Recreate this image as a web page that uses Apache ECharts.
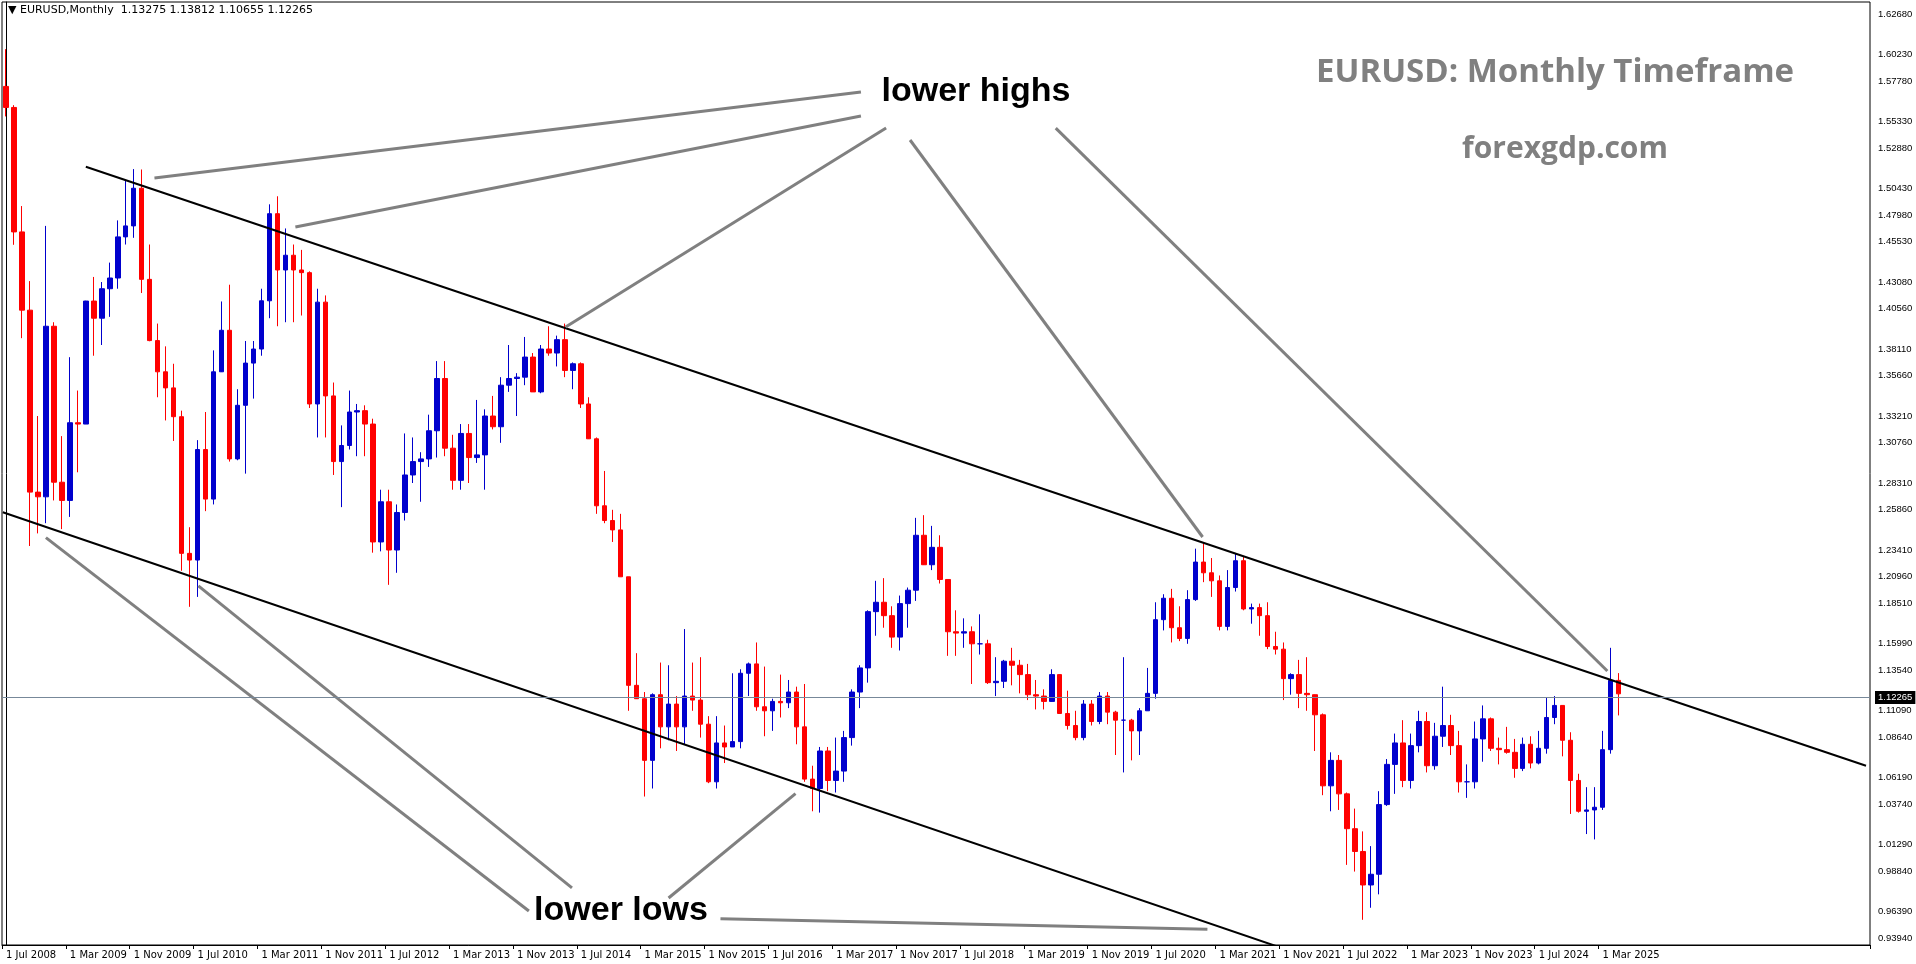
<!DOCTYPE html>
<html><head><meta charset="utf-8">
<script src="https://cdn.jsdelivr.net/npm/echarts@6/dist/echarts.min.js"></script>
<style>html,body{margin:0;padding:0;background:#fff}#c{width:1916px;height:964px}</style>
</head><body><div id="c"></div>
<script>
// OHLC: first open, then monthly [high, low, close] from Jul 2008 to May 2025
const firstOpen = 1.5760;
const y2008 = [[1.6038,1.5536,1.5603],[1.5620,1.4578,1.4674],[1.4867,1.3881,1.4090],[1.4307,1.2330,1.2732],[1.3300,1.2424,1.2697],[1.4719,1.2500,1.3970]];
const y2009 = [[1.4000,1.2670,1.2806],[1.3150,1.2456,1.2670],[1.3739,1.2547,1.3250],[1.3490,1.2880,1.3240],[1.4160,1.3250,1.4158],[1.4338,1.3750,1.4030],[1.4300,1.3830,1.4250],[1.4445,1.4040,1.4330],[1.4760,1.4250,1.4637],[1.5062,1.4580,1.4719],[1.5143,1.4630,1.5000],[1.5140,1.4218,1.4320]];
const y2010 = [[1.4580,1.3858,1.3863],[1.3990,1.3440,1.3630],[1.3820,1.3267,1.3510],[1.3690,1.3114,1.3295],[1.3340,1.2145,1.2275],[1.2470,1.1876,1.2225],[1.3120,1.1950,1.3050],[1.3330,1.2590,1.2680],[1.3790,1.2640,1.3630],[1.4155,1.3700,1.3940],[1.4280,1.2960,1.2980],[1.3500,1.2970,1.3380]];
const y2011 = [[1.3860,1.2870,1.3695],[1.3860,1.3430,1.3800],[1.4250,1.3750,1.4160],[1.4880,1.4030,1.4810],[1.4940,1.3970,1.4390],[1.4700,1.4000,1.4500],[1.4580,1.4000,1.4390],[1.4540,1.4050,1.4370],[1.4380,1.3360,1.3390],[1.4250,1.3140,1.4150],[1.4200,1.3140,1.3450],[1.3550,1.2860,1.2960]];
const y2012 = [[1.3230,1.2620,1.3080],[1.3490,1.3050,1.3330],[1.3390,1.3000,1.3340],[1.3380,1.3000,1.3240],[1.3280,1.2280,1.2360],[1.2750,1.2290,1.2660],[1.2750,1.2040,1.2300],[1.2640,1.2130,1.2580],[1.3170,1.2520,1.2860],[1.3140,1.2800,1.2960],[1.3030,1.2660,1.2980],[1.3310,1.2920,1.3190]];
const y2013 = [[1.3710,1.2990,1.3580],[1.3710,1.3000,1.3060],[1.3160,1.2750,1.2820],[1.3240,1.2750,1.3170],[1.3240,1.2800,1.2990],[1.3420,1.2950,1.3010],[1.3350,1.2750,1.3300],[1.3450,1.3200,1.3220],[1.3590,1.3100,1.3530],[1.3830,1.3480,1.3580],[1.3620,1.3300,1.3590],[1.3890,1.3530,1.3740]];
const y2014 = [[1.3770,1.3480,1.3480],[1.3830,1.3470,1.3800],[1.3970,1.3750,1.3770],[1.3900,1.3670,1.3870],[1.3990,1.3590,1.3640],[1.3700,1.3500,1.3690],[1.3700,1.3360,1.3390],[1.3440,1.3150,1.3130],[1.3140,1.2570,1.2630],[1.2890,1.2500,1.2520],[1.2600,1.2360,1.2450],[1.2570,1.2100,1.2100]];
const y2015 = [[1.2100,1.1100,1.1290],[1.1530,1.1260,1.1190],[1.1240,1.0460,1.0730],[1.1230,1.0520,1.1220],[1.1460,1.0820,1.0980],[1.1440,1.0880,1.1150],[1.1210,1.0800,1.0980],[1.1710,1.0850,1.1210],[1.1460,1.1100,1.1180],[1.1500,1.0900,1.1000],[1.1060,1.0560,1.0570],[1.1060,1.0520,1.0860]];
const y2016 = [[1.0990,1.0710,1.0830],[1.1380,1.0860,1.0870],[1.1410,1.0820,1.1380],[1.1460,1.1210,1.1450],[1.1610,1.1100,1.1130],[1.1430,1.0910,1.1100],[1.1190,1.0950,1.1170],[1.1370,1.1050,1.1160],[1.1330,1.1120,1.1240],[1.1280,1.0850,1.0980],[1.1300,1.0570,1.0590],[1.0690,1.0350,1.0520]];
const y2017 = [[1.0830,1.0340,1.0800],[1.0830,1.0500,1.0580],[1.0900,1.0490,1.0650],[1.0950,1.0570,1.0900],[1.1260,1.0840,1.1240],[1.1440,1.1120,1.1420],[1.1850,1.1310,1.1840],[1.2070,1.1660,1.1910],[1.2090,1.1720,1.1810],[1.1880,1.1570,1.1650],[1.1960,1.1550,1.1900],[1.2020,1.1720,1.2000]];
const y2018 = [[1.2540,1.1920,1.2410],[1.2560,1.2210,1.2190],[1.2480,1.2150,1.2320],[1.2410,1.2050,1.2080],[1.2080,1.1510,1.1690],[1.1850,1.1510,1.1680],[1.1790,1.1570,1.1690],[1.1730,1.1300,1.1600],[1.1820,1.1520,1.1600],[1.1630,1.1300,1.1310],[1.1500,1.1210,1.1320],[1.1480,1.1270,1.1470]];
const y2019 = [[1.1570,1.1290,1.1440],[1.1480,1.1230,1.1370],[1.1450,1.1180,1.1220],[1.1330,1.1110,1.1210],[1.1260,1.1110,1.1170],[1.1410,1.1180,1.1370],[1.1290,1.1100,1.1080],[1.1250,1.0960,1.0990],[1.1100,1.0880,1.0900],[1.1180,1.0880,1.1150],[1.1180,1.0990,1.1020],[1.1240,1.1000,1.1210]];
const y2020 = [[1.1240,1.1000,1.1090],[1.1100,1.0770,1.1030],[1.1500,1.0640,1.1030],[1.1040,1.0730,1.0950],[1.1120,1.0770,1.1100],[1.1420,1.1100,1.1230],[1.1910,1.1190,1.1780],[1.1970,1.1700,1.1940],[1.2010,1.1610,1.1720],[1.1880,1.1620,1.1640],[1.2000,1.1600,1.1930],[1.2310,1.1920,1.2210]];
const y2021 = [[1.2350,1.2060,1.2130],[1.2240,1.1950,1.2070],[1.2110,1.1700,1.1730],[1.2150,1.1700,1.2020],[1.2270,1.1990,1.2220],[1.2250,1.1850,1.1860],[1.1900,1.1750,1.1870],[1.1900,1.1660,1.1810],[1.1910,1.1560,1.1580],[1.1690,1.1520,1.1560],[1.1610,1.1180,1.1340],[1.1380,1.1220,1.1370]];
const y2022 = [[1.1480,1.1120,1.1230],[1.1500,1.1100,1.1220],[1.1180,1.0800,1.1070],[1.1080,1.0470,1.0540],[1.0790,1.0350,1.0730],[1.0770,1.0360,1.0480],[1.0490,0.9950,1.0220],[1.0370,0.9900,1.0050],[1.0200,0.9540,0.9800],[1.0090,0.9630,0.9880],[1.0500,0.9730,1.0400],[1.0740,1.0390,1.0700]];
const y2023 = [[1.0930,1.0480,1.0860],[1.1030,1.0530,1.0580],[1.0930,1.0520,1.0840],[1.1100,1.0790,1.1020],[1.1090,1.0640,1.0690],[1.1010,1.0660,1.0910],[1.1280,1.0830,1.0990],[1.1070,1.0770,1.0840],[1.0950,1.0490,1.0570],[1.0700,1.0450,1.0570],[1.1020,1.0520,1.0890],[1.1140,1.0720,1.1040]];
const y2024 = [[1.1050,1.0800,1.0820],[1.0900,1.0700,1.0810],[1.0980,1.0780,1.0790],[1.0890,1.0600,1.0670],[1.0900,1.0650,1.0850],[1.0910,1.0670,1.0710],[1.0950,1.0700,1.0820],[1.1200,1.0780,1.1050],[1.1210,1.1000,1.1140],[1.1140,1.0760,1.0880],[1.0940,1.0330,1.0580],[1.0630,1.0340,1.0350]];
const y2025 = [[1.0530,1.0180,1.0360],[1.0530,1.0140,1.0380],[1.0950,1.0360,1.0810],[1.1570,1.0780,1.1327],[1.13812,1.10655,1.12265]];
const startYear = 2008, startMonth = 6; // Jul 2008
const totalSlots = 234;
const xTickLabels = ["1 Jul 2008","1 Mar 2009","1 Nov 2009","1 Jul 2010","1 Mar 2011","1 Nov 2011","1 Jul 2012","1 Mar 2013","1 Nov 2013","1 Jul 2014","1 Mar 2015","1 Nov 2015","1 Jul 2016","1 Mar 2017","1 Nov 2017","1 Jul 2018","1 Mar 2019","1 Nov 2019","1 Jul 2020","1 Mar 2021","1 Nov 2021","1 Jul 2022","1 Mar 2023","1 Nov 2023","1 Jul 2024","1 Mar 2025"];
const yTickLabels = ["1.62680","1.60230","1.57780","1.55330","1.52880","1.50430","1.47980","1.45530","1.43080","1.40560","1.38110","1.35660","1.33210","1.30760","1.28310","1.25860","1.23410","1.20960","1.18510","1.15990","1.13540","1.11090","1.08640","1.06190","1.03740","1.01290","0.98840","0.96390","0.93940"];
const lastPrice = 1.12265;
const upperChannel = [[10,1.5160],[233,1.0690]];
const lowerChannel = [[-0.4,1.2582],[159.6,0.9334]];
const arrows = [
 [[18.6,1.5076],[107.1,1.5718]],
 [[36.25,1.4711],[107.1,1.5539]],
 [[70.1,1.3964],[110.25,1.5449]],
 [[113.25,1.5360],[149.9,1.2397]],
 [[131.5,1.5449],[200.6,1.1397]],
 [[5.0,1.2392],[65.5,0.9606]],
 [[24.1,1.2032],[70.9,0.9778]],
 [[83.0,0.9703],[98.9,1.0482]],
 [[89.5,0.9547],[150.5,0.9470]]
];

const rows = [].concat(y2008,y2009,y2010,y2011,y2012,y2013,y2014,y2015,y2016,y2017,y2018,y2019,y2020,y2021,y2022,y2023,y2024,y2025);
const mon = ["Jan","Feb","Mar","Apr","May","Jun","Jul","Aug","Sep","Oct","Nov","Dec"];
const cats = [];
for (let i=0;i<totalSlots;i++){ const m=startMonth+i; cats.push("1 "+mon[m%12]+" "+(startYear+Math.floor(m/12))); }
const candles = []; let prev = firstOpen;
rows.forEach(r=>{ const o=prev, c=r[2]; candles.push([o,c,r[1],r[0]]); prev=c; });

const YMIN=0.9352, YMAX=1.6390;
const lblFont = {fontSize:9.5,fontFamily:'Liberation Sans'};
const series = [{
  type:'candlestick', data:candles, barWidth:5,
  itemStyle:{color:'#0000CD',borderColor:'#0000CD',color0:'#FF0000',borderColor0:'#FF0000',borderWidth:1},
  markLine:{symbol:'none',silent:true,animation:false,
    data: yTickLabels.map(t=>({yAxis:parseFloat(t),lineStyle:{width:1,color:'rgba(0,0,0,0)'},label:Object.assign({show:true,position:'end',formatter:t,color:'#000',distance:8},lblFont)}))
      .concat([{yAxis:lastPrice,lineStyle:{color:'#778899',width:1,type:'solid'},label:Object.assign({show:true,position:'end',formatter:lastPrice.toFixed(5),color:'#fff',backgroundColor:'#000',padding:[2,3,1,3],distance:5},lblFont)}])
  }
}];
[upperChannel,lowerChannel].forEach(d=>series.push({type:'line',xAxisIndex:1,data:d,symbol:'none',lineStyle:{color:'#000',width:2},silent:true}));
arrows.forEach(d=>series.push({type:'line',xAxisIndex:1,data:d,symbol:'none',lineStyle:{color:'#808080',width:3},silent:true}));

const chart = echarts.init(document.getElementById('c'));
chart.setOption({
  animation:false, backgroundColor:'#fff',
  grid:{left:2,right:46,top:2,bottom:19,show:true,borderColor:'#000',borderWidth:1},
  xAxis:[{type:'category',data:cats,boundaryGap:true,
    axisLine:{lineStyle:{color:'#000'}},
    axisTick:{show:true,length:4,lineStyle:{color:'#000'},interval:(i,v)=>xTickLabels.indexOf(v)>=0},
    axisLabel:{interval:(i,v)=>xTickLabels.indexOf(v)>=0,align:'left',margin:5,fontSize:10,fontFamily:'DejaVu Sans',color:'#000'},
    splitLine:{show:false}},
   {type:'value',min:-0.5,max:totalSlots-0.5,show:false}],
  yAxis:{type:'value',position:'right',min:YMIN,max:YMAX,axisLine:{show:true,lineStyle:{color:'#000'}},axisLabel:{show:false},axisTick:{show:false},splitLine:{show:false}},
  graphic:[
    {type:'text',left:8,top:5,style:{text:'▼ EURUSD,Monthly  1.13275 1.13812 1.10655 1.12265',fontSize:11,fontFamily:'DejaVu Sans',fill:'#000'}},
    {type:'text',x:976,y:92,style:{text:'lower highs',fontSize:34,fontWeight:'bold',fontFamily:'Liberation Sans',fill:'#000',align:'center',verticalAlign:'middle'}},
    {type:'text',x:621,y:911,style:{text:'lower lows',fontSize:34,fontWeight:'bold',fontFamily:'Liberation Sans',fill:'#000',align:'center',verticalAlign:'middle'}},
    {type:'text',x:1555,y:73,style:{text:'EURUSD: Monthly Timeframe',fontSize:33,fontWeight:'bold',fontFamily:'Open Sans',fill:'#808080',align:'center',verticalAlign:'middle'}},
    {type:'text',x:1565,y:149,style:{text:'forexgdp.com',fontSize:30,fontWeight:'bold',fontFamily:'Open Sans',fill:'#808080',align:'center',verticalAlign:'middle'}}
  ],
  series:series
});
</script></body></html>
